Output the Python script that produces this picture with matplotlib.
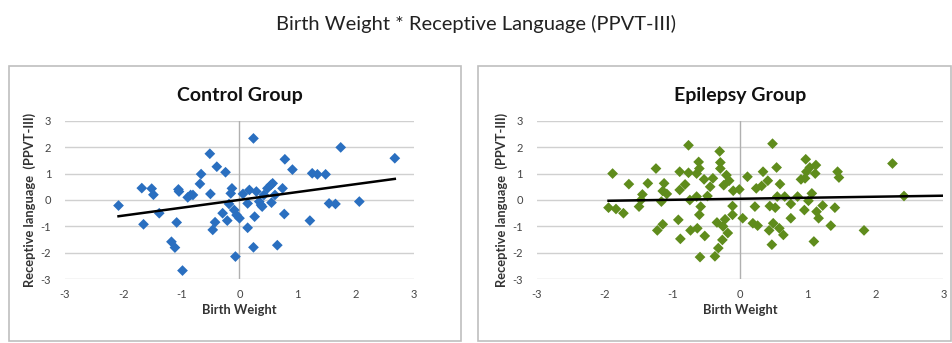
import numpy as np
import matplotlib.pyplot as plt

plt.rcParams['font.family'] = ['Lato', 'DejaVu Sans']
plt.rcParams['axes.unicode_minus'] = False

# Control group: birth weight (x) vs receptive language (y), z-scores
control_x = [-2.08, -1.68, -1.65, -1.51, -1.48, -1.38, -1.17, -1.11, -1.08, -1.05,
             -1.04, -0.98, -0.89, -0.84, -0.80, -0.68, -0.66, -0.51, -0.50, -0.46,
             -0.42, -0.39, -0.29, -0.24, -0.21, -0.18, -0.15, -0.13, -0.09, -0.07,
             -0.05, 0.00, 0.06, 0.14, 0.14, 0.17, 0.24, 0.24, 0.26, 0.29,
             0.34, 0.37, 0.42, 0.39, 0.48, 0.54, 0.57, 0.55, 0.61, 0.65,
             0.74, 0.77, 0.78, 0.91, 1.21, 1.25, 1.34, 1.48, 1.54, 1.65,
             1.74, 2.06, 2.67]
control_y = [-0.21, 0.45, -0.92, 0.43, 0.20, -0.50, -1.58, -1.80, -0.85, 0.40,
             0.32, -2.67, 0.10, 0.19, 0.19, 0.61, 0.98, 1.75, 0.23, -1.13,
             -0.84, 1.26, -0.50, 1.05, -0.78, -0.15, 0.25, 0.44, -0.38, -2.14,
             -0.57, -0.69, 0.23, -0.13, -1.05, 0.38, 2.33, -1.79, -0.63, 0.32,
             -0.06, -0.19, 0.19, -0.25, 0.44, 0.57, 0.63, -0.10, 0.19, -1.71,
             0.44, -0.53, 1.54, 1.15, -0.78, 1.01, 0.97, 0.97, -0.13, -0.15,
             1.99, -0.06, 1.58]

# Epilepsy group
epilepsy_x = [-1.94, -1.88, -1.83, -1.72, -1.64, -1.49, -1.46, -1.44, -1.36, -1.24,
              -1.22, -1.16, -1.14, -1.12, -1.14, -1.08, -0.91, -0.89, -0.89, -0.88,
              -0.81, -0.76, -0.76, -0.74, -0.73, -0.64, -0.64, -0.63, -0.61, -0.60,
              -0.60, -0.58, -0.59, -0.53, -0.52, -0.48, -0.44, -0.40, -0.37, -0.34,
              -0.32, -0.30, -0.29, -0.29, -0.26, -0.24, -0.25, -0.22, -0.20, -0.18,
              -0.16, -0.11, -0.11, -0.10, -0.01, 0.04, 0.11, 0.19, 0.22, 0.24,
              0.26, 0.32, 0.34, 0.41, 0.43, 0.44, 0.47, 0.48, 0.49, 0.52,
              0.54, 0.55, 0.58, 0.59, 0.64, 0.66, 0.75, 0.75, 0.85, 0.90,
              0.95, 0.96, 0.97, 0.98, 1.01, 1.03, 1.06, 1.09, 1.11, 1.12,
              1.13, 1.16, 1.22, 1.34, 1.40, 1.44, 1.46, 1.83, 2.25, 2.42]
epilepsy_y = [-0.29, 1.00, -0.34, -0.50, 0.60, -0.25, 0.00, 0.21, 0.63, 1.19,
              -1.15, -0.06, 0.34, 0.63, -0.92, 0.23, -0.75, 0.38, 1.07, -1.47,
              0.59, 2.07, 1.03, 0.00, -1.15, 0.13, 1.00, -1.07, 1.44, 1.19,
              -0.56, -0.25, -2.16, 0.78, -1.36, 0.15, 0.50, 0.82, -2.13, -0.85,
              -1.82, 1.84, 1.42, 1.19, -1.51, 0.56, -1.00, -0.73, 0.94, -1.25,
              0.73, -0.56, -0.23, 0.35, 0.40, -0.69, 0.88, -0.88, -0.25, 0.44,
              -0.97, 0.53, 1.07, 0.73, -1.15, -0.23, -1.69, 2.13, -0.88, -0.29,
              1.23, 0.13, -1.07, 0.60, -1.32, 0.13, -0.15, -0.69, 0.13, 0.78,
              -0.38, 0.82, 1.54, 1.07, -0.03, 1.23, 0.25, -1.57, 1.00, 1.32,
              -0.44, -0.69, -0.21, -0.97, -0.29, 1.07, 0.85, -1.15, 1.38, 0.15]

ticks = [-3, -2, -1, 0, 1, 2, 3]

fig = plt.figure(figsize=(9.52, 3.43), dpi=100)
fig.text(0.5, 0.93, 'Birth Weight * Receptive Language (PPVT-III)',
         ha='center', va='center', fontsize=14.5, color='#222222')

# panel frames
for x0, x1 in [(9, 461), (478, 951)]:
    fig.patches.append(plt.Rectangle((x0 / 952, 1 - 341 / 343), (x1 - x0) / 952, (341 - 66) / 343,
                                     transform=fig.transFigure, fill=False,
                                     edgecolor='#bfbfbf', linewidth=1.2))


def panel(rect, xs, ys, color, title, line_end=None):
    ax = fig.add_axes(rect)
    ax.set_xlim(-3, 3)
    ax.set_ylim(-3, 3)
    for t in ticks:
        ax.axhline(t, color='#d0d0d0', lw=1, zorder=0)
    ax.axvline(0, color='#b0b0b0', lw=1, zorder=0)
    for s in ax.spines.values():
        s.set_visible(False)
    ax.set_xticks(ticks)
    ax.set_yticks(ticks)
    ax.tick_params(axis='x', length=0, labelsize=8, labelcolor='#444444', pad=7)
    ax.tick_params(axis='y', length=0, labelsize=8, labelcolor='#444444', pad=10)
    ax.scatter(xs, ys, marker='D', s=30, color=color, edgecolors='none', zorder=3)
    k, b = np.polyfit(xs, ys, 1)
    x_end = max(xs) if line_end is None else line_end
    lx = np.array([min(xs), x_end])
    ax.plot(lx, k * lx + b, color='black', lw=1.8, zorder=4)
    ax.set_xlabel('Birth Weight', fontsize=9.3, fontweight='bold', color='#333333', labelpad=3)
    ax.set_ylabel('Receptive language  (PPVT-III)', fontsize=9.3, fontweight='bold',
                  color='#333333', labelpad=3)
    ax.set_title(title, fontsize=14, fontweight='bold', color='#111111', pad=14)
    return ax


panel([65 / 952, 1 - 279.3 / 343, 349 / 952, 158.6 / 343], control_x, control_y,
      '#2a6fc0', 'Control Group')
panel([536.7 / 952, 1 - 279.3 / 343, 406.6 / 952, 158.6 / 343], epilepsy_x, epilepsy_y,
      '#5f8c1c', 'Epilepsy Group', line_end=3)

plt.savefig('out.png', dpi=100)
